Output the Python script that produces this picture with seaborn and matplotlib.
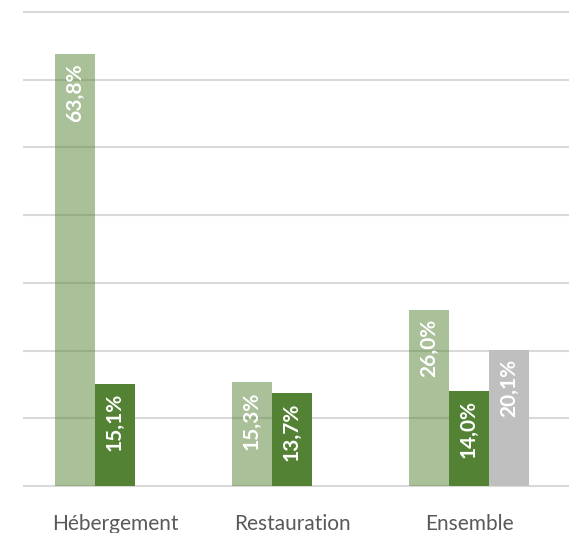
import matplotlib
matplotlib.use("Agg")
import matplotlib.pyplot as plt
import matplotlib.transforms as mtransforms
import seaborn as sns
import pandas as pd
import numpy as np

categories = ["Hébergement", "Restauration", "Ensemble"]
series_names = ["Série A", "Série B", "Série C"]
serie_a = [63.8, 15.3, 26.0]
serie_b = [15.1, 13.7, 14.0]
serie_c = [None, None, 20.1]

rows = []
for i, c in enumerate(categories):
    for s, vals in zip(series_names, [serie_a, serie_b, serie_c]):
        if vals[i] is not None:
            rows.append({"cat": c, "serie": s, "val": vals[i]})
df = pd.DataFrame(rows)

sns.set_theme(style="white")
plt.rcParams['font.family'] = ['Lato', 'DejaVu Sans']

W, H = 569, 533
fig = plt.figure(figsize=(W / 100, H / 100), dpi=100)
ax = fig.add_axes([23 / W, (533 - 490) / H, (569 - 23) / W, (490 - 8) / H])

palette = {"Série A": (84/255, 130/255, 53/255, 0.5),
           "Série B": "#548235",
           "Série C": "#BFBFBF"}

sns.barplot(data=df, x="cat", y="val", hue="serie", hue_order=series_names,
            order=categories, palette=palette, width=0.678, dodge=True,
            saturation=1, legend=False, ax=ax, zorder=3, linewidth=0)

px = 10 / 67.7
ax.set_ylim(-4 * px, 70 + 4 * px)
ax.set_xlim(-0.52, 2.565)
ax.set_yticks(np.arange(0, 80, 10))
ax.yaxis.grid(True, color="#D9D9D9", linewidth=1.5, zorder=0)
ax.set_axisbelow(True)
ax.tick_params(axis="y", left=False, labelleft=False)
ax.tick_params(axis="x", bottom=False, labelsize=15, labelcolor="#595959", pad=11)
ax.set_xlabel("")
ax.set_ylabel("")
for sp in ax.spines.values():
    sp.set_visible(False)

offset = mtransforms.offset_copy(ax.transData, fig=fig, x=0, y=-9, units="dots")
for p in ax.patches:
    h = p.get_height()
    if h is None or np.isnan(h) or h <= 0:
        continue
    xc = p.get_x() + p.get_width() / 2
    ax.text(xc, h, f"{h:.1f}%".replace(".", ","), rotation=90, ha="center", va="top",
            color="white", fontsize=15, fontweight="bold", transform=offset, zorder=5)

fig.savefig("out.png", dpi=100)
